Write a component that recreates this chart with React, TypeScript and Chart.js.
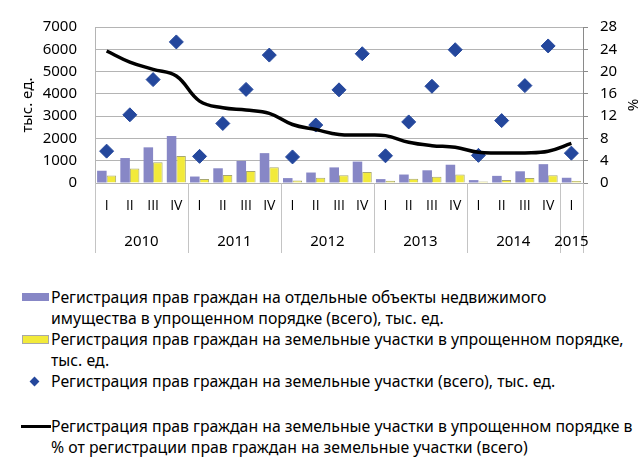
import React, { useEffect, useRef } from 'react';
import { Chart, registerables } from 'chart.js';

Chart.register(...registerables);

const quarters = ['I', 'II', 'III', 'IV', 'I', 'II', 'III', 'IV', 'I', 'II', 'III', 'IV', 'I', 'II', 'III', 'IV', 'I', 'II', 'III', 'IV', 'I'];
const years = ['2010', '2011', '2012', '2013', '2014', '2015'];
const yearSpans = [4, 4, 4, 4, 4, 1];

// тыс. ед.
const propertySimplified = [550, 1120, 1600, 2110, 290, 660, 990, 1340, 220, 470, 700, 960, 175, 380, 570, 820, 130, 320, 525, 845, 235];
const landSimplified = [335, 655, 935, 1210, 175, 355, 540, 710, 115, 235, 350, 490, 98, 190, 275, 380, 65, 140, 228, 350, 92];
const landTotal = [1430, 3060, 4640, 6330, 1195, 2670, 4200, 5740, 1170, 2600, 4180, 5800, 1220, 2740, 4340, 5980, 1240, 2800, 4370, 6150, 1340];
// %
const landSharePct = [23.7, 21.7, 20.4, 19.2, 14.7, 13.5, 13.1, 12.5, 10.5, 9.6, 8.7, 8.6, 8.5, 7.3, 6.7, 6.4, 5.5, 5.4, 5.4, 5.7, 7.1];

const leftTicks = [0, 1000, 2000, 3000, 4000, 5000, 6000, 7000];
const rightTicks = [0, 4, 8, 12, 16, 20, 24, 28];

const labelsLegend = [
  ['Регистрация прав граждан на отдельные объекты недвижимого', 'имущества в упрощенном порядке (всего), тыс. ед.'],
  ['Регистрация прав граждан на земельные участки в упрощенном порядке,', 'тыс. ед.'],
  ['Регистрация прав граждан на земельные участки (всего), тыс. ед.'],
  ['Регистрация прав граждан на земельные участки в упрощенном порядке в', '% от регистрации прав граждан на земельные участки (всего)'],
];

const FONT = "'Noto Sans', sans-serif";
const ROMAN_FONT = "'Open Sans', sans-serif";
const PURPLE = '#8787c6';
const YELLOW = '#f2ea3a';
const BLUE = '#24479c';
const GRID = '#b4b4b4';

Chart.defaults.font.family = FONT;
Chart.defaults.font.size = 15;
Chart.defaults.color = '#000';

export default function App() {
  const ref = useRef<HTMLCanvasElement>(null);

  useEffect(() => {
    if (!ref.current) return;
    const yearPlugin = {
      id: 'yearGroups',
      afterDraw(chart: any) {
        const { ctx, chartArea, scales } = chart;
        const x = scales.x;
        const half = (x.getPixelForValue(1) - x.getPixelForValue(0)) / 2;
        const bottom = 253;
        ctx.save();
        ctx.strokeStyle = '#c4c4c4';
        ctx.lineWidth = 1;
        ctx.fillStyle = '#000';
        ctx.font = `15px ${FONT}`;
        ctx.textAlign = 'center';
        ctx.textBaseline = 'middle';
        let start = 0;
        const firstX = Math.round(x.getPixelForValue(0) - half) + 0.5;
        ctx.beginPath();
        ctx.moveTo(firstX, chartArea.bottom);
        ctx.lineTo(firstX, bottom);
        ctx.stroke();
        years.forEach((yr, i) => {
          const end = start + yearSpans[i];
          const x0 = x.getPixelForValue(start) - half;
          const x1 = x.getPixelForValue(end - 1) + half;
          const lx = Math.round(x1) + 0.5;
          ctx.beginPath();
          ctx.moveTo(lx, chartArea.bottom);
          ctx.lineTo(lx, bottom);
          ctx.stroke();
          ctx.fillText(yr, (x0 + x1) / 2, 242);
          start = end;
        });
        ctx.restore();
      },
    };

    const tickFont = { family: FONT, size: 15 };

    const chart = new Chart(ref.current, {
      type: 'bar',
      data: {
        labels: quarters,
        datasets: [
          {
            type: 'line',
            label: 'Регистрация прав граждан на земельные участки (всего), тыс. ед.',
            data: landTotal,
            yAxisID: 'y',
            showLine: false,
            pointStyle: 'rectRot',
            pointRadius: 7,
            pointBackgroundColor: BLUE,
            pointBorderColor: BLUE,
            pointBorderWidth: 1,
            order: 1,
          },
          {
            type: 'line',
            label: 'Регистрация прав граждан на земельные участки в упрощенном порядке в % от регистрации прав граждан на земельные участки (всего)',
            data: landSharePct,
            yAxisID: 'y1',
            borderColor: '#000',
            borderWidth: 3.5,
            pointRadius: 0,
            tension: 0.4,
            fill: false,
            order: 0,
          },
          {
            type: 'bar',
            label: 'Регистрация прав граждан на отдельные объекты недвижимого имущества в упрощенном порядке (всего), тыс. ед.',
            data: propertySimplified,
            yAxisID: 'y',
            backgroundColor: PURPLE,
            borderWidth: 0,
            barPercentage: 1,
            categoryPercentage: 0.82,
            order: 2,
          },
          {
            type: 'bar',
            label: 'Регистрация прав граждан на земельные участки в упрощенном порядке, тыс. ед.',
            data: landSimplified,
            yAxisID: 'y',
            backgroundColor: YELLOW,
            borderColor: '#a8a870',
            borderWidth: 1,
            barPercentage: 1,
            categoryPercentage: 0.82,
            order: 2,
          },
        ],
      },
      options: {
        responsive: false,
        animation: false,
        layout: { padding: { left: 0, right: 0, top: 23, bottom: 0 } },
        plugins: { legend: { display: false }, tooltip: { enabled: false } },
        scales: {
          x: {
            offset: true,
            grid: { display: false, drawTicks: false },
            border: { display: false },
            ticks: { color: '#000', font: { family: ROMAN_FONT, size: 14 }, padding: 15, maxRotation: 0, autoSkip: false },
            afterFit(scale: any) { scale.height = 270 - 183; },
          },
          y: {
            position: 'left',
            min: 0,
            max: 7000,
            afterBuildTicks(scale: any) { scale.ticks = leftTicks.map((v) => ({ value: v })); },
            ticks: { color: '#000', font: tickFont, padding: 18, callback: (v: any) => String(v) },
            grid: { color: GRID, drawTicks: false },
            border: { display: true, color: GRID },
            title: { display: true, text: 'тыс. ед.', color: '#000', font: tickFont, padding: { top: 19, bottom: 0 } },
            afterFit(scale: any) { scale.width = 95; },
          },
          y1: {
            position: 'right',
            min: 0,
            max: 28,
            afterBuildTicks(scale: any) { scale.ticks = rightTicks.map((v) => ({ value: v })); },
            ticks: { color: '#000', font: tickFont, padding: 12, callback: (v: any) => String(v) },
            grid: { drawOnChartArea: false, drawTicks: true, tickLength: 5, color: '#8a8a8a' },
            border: { display: true, color: '#8a8a8a' },
            title: { display: true, text: '%', color: '#000', font: tickFont, padding: { top: 0, bottom: 0 } },
            afterFit(scale: any) { scale.width = 641 - 583; },
          },
        },
      },
      plugins: [yearPlugin],
    });
    return () => chart.destroy();
  }, []);

  const textStyle: React.CSSProperties = {
    position: 'absolute',
    left: 51,
    fontFamily: FONT,
    fontSize: 15.8,
    lineHeight: '21px',
    color: '#000',
    whiteSpace: 'nowrap',
  };

  return (
    <div style={{ position: 'fixed', left: 0, top: 0, width: 641, height: 458, background: '#fff', overflow: 'hidden' }}>
      <canvas ref={ref} width={641} height={270} style={{ position: 'absolute', left: 0, top: 0, width: 641, height: 270 }} />
      <div style={{ position: 'absolute', left: 22, top: 293, width: 27, height: 8, background: PURPLE }} />
      <div style={{ ...textStyle, top: 287 }}>{labelsLegend[0][0]}<br />{labelsLegend[0][1]}</div>
      <div style={{ position: 'absolute', left: 22, top: 335, width: 27, height: 9, background: YELLOW, border: '1px solid #a8a8a8', boxSizing: 'border-box' }} />
      <div style={{ ...textStyle, top: 329 }}>{labelsLegend[1][0]}<br />{labelsLegend[1][1]}</div>
      <div style={{ position: 'absolute', left: 31, top: 378, width: 7, height: 7, background: BLUE, transform: 'rotate(45deg)' }} />
      <div style={{ ...textStyle, top: 371 }}>{labelsLegend[2][0]}</div>
      <div style={{ position: 'absolute', left: 21, top: 425, width: 30, height: 3, background: '#000' }} />
      <div style={{ ...textStyle, top: 416, lineHeight: '20.5px' }}>{labelsLegend[3][0]}<br />{labelsLegend[3][1]}</div>
    </div>
  );
}
